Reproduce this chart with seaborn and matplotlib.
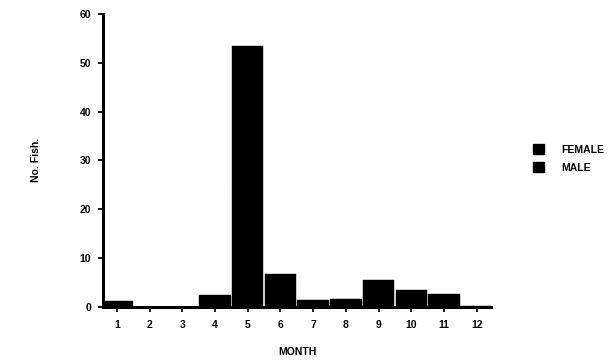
"""
Monthly fish counts by sex (stacked bars)
"""
import numpy as np
import pandas as pd
import matplotlib.pyplot as plt
import matplotlib.patches as mpatches
import seaborn as sns

# ─ Data ─────────────────────────────────────────────────────────────────── #
months = [1, 2, 3, 4, 5, 6, 7, 8, 9, 10, 11, 12]
female = [1.0, 0, 0, 1.5, 30, 4, 1.0, 1.0, 3.5, 2.0, 1.5, 0.2]
male   = [0.3, 0, 0, 1.0, 23.5, 2.8, 0.4, 0.6, 2.1, 1.5, 1.1, 0]
sexes  = ["FEMALE", "MALE"]
yticks = [0, 10, 20, 30, 40, 50, 60]

df = pd.DataFrame({
    "month": months * 2,
    "count": female + male,
    "sex": [sexes[0]] * len(months) + [sexes[1]] * len(months),
})

# ─ Style ────────────────────────────────────────────────────────────────── #
sns.set_style("white")
plt.rcParams["font.family"] = ["Liberation Sans", "DejaVu Sans"]
plt.rcParams["font.weight"] = "bold"
plt.rcParams["text.color"] = "black"
plt.rcParams["axes.labelcolor"] = "black"
plt.rcParams["xtick.color"] = "black"
plt.rcParams["ytick.color"] = "black"

fig = plt.figure(figsize=(6.12, 3.64), dpi=100)
ax = fig.add_axes([0.168, 0.157, 0.635, 0.805])

sns.histplot(data=df, x="month", weights="count", hue="sex", hue_order=sexes,
             multiple="stack", discrete=True, shrink=0.96,
             palette=["black", "black"], alpha=1, edgecolor="black",
             linewidth=0.3, legend=False, ax=ax)

ax.set_xlim(0.57, 12.45)
ax.set_ylim(0, 60)
ax.set_xticks(months)
ax.set_yticks(yticks)
ax.tick_params(axis="both", labelsize=7.5, length=3.5, width=1.3,
               direction="out", pad=5, bottom=True, left=True)
ax.tick_params(axis="x", pad=6)
for lab in ax.get_xticklabels() + ax.get_yticklabels():
    lab.set_fontweight("bold")

for side in ["top", "right"]:
    ax.spines[side].set_visible(False)
for side in ["left", "bottom"]:
    ax.spines[side].set_linewidth(2.2)
    ax.spines[side].set_color("black")

ax.set_xlabel("MONTH", fontsize=7.5, fontweight="bold", labelpad=12)
ax.set_ylabel("No. Fish.", fontsize=7.5, fontweight="bold", labelpad=28)

handles = [mpatches.Patch(color="black", label=s) for s in sexes]
fig.legend(handles=handles, loc="center left", bbox_to_anchor=(0.855, 0.565),
           frameon=False, fontsize=7.5, handlelength=1.1, handleheight=1.1,
           labelspacing=0.7, handletextpad=1.6)

plt.savefig("out.png", dpi=100)
plt.close()
